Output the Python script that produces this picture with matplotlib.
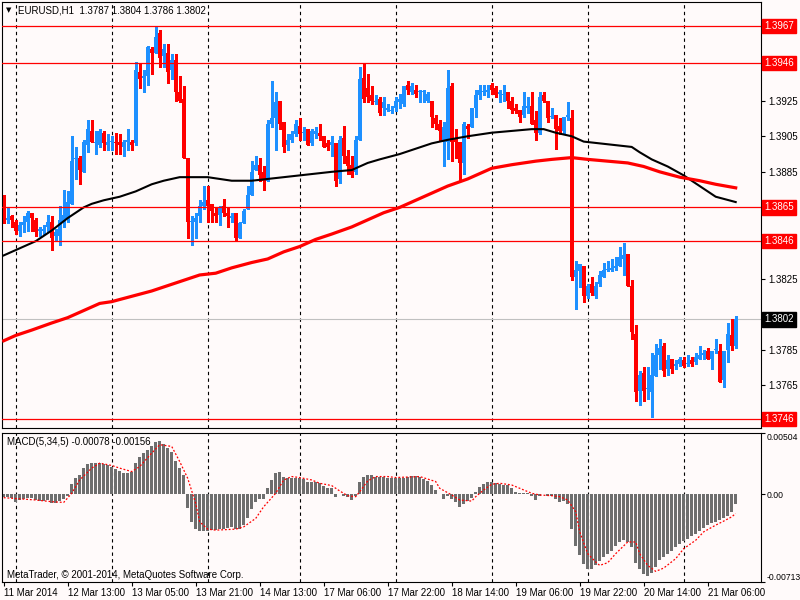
import numpy as np
import matplotlib
matplotlib.use('Agg')
import matplotlib.pyplot as plt
import matplotlib.transforms as mtransforms

plt.rcParams['font.family'] = ['Liberation Sans', 'DejaVu Sans']

# ---- data (EURUSD H1, 184 bars) ----
symbol = 'EURUSD,H1'

opens = [1.3871, 1.3858, 1.3860, 1.3857, 1.3852, 1.3855, 1.3857, 1.3862, 1.3858, 1.3852,
         1.3852, 1.3854, 1.3857, 1.3849, 1.3849, 1.3857, 1.3859, 1.3867, 1.3892, 1.3893,
         1.3885, 1.3900, 1.3908, 1.3901, 1.3900, 1.3907, 1.3900, 1.3902, 1.3902, 1.3902,
         1.3899, 1.3902, 1.3902, 1.3901, 1.3941, 1.3938, 1.3939, 1.3954, 1.3952, 1.3963,
         1.3950, 1.3952, 1.3942, 1.3948, 1.3930, 1.3926, 1.3893, 1.3857, 1.3857, 1.3860,
         1.3866, 1.3869, 1.3867, 1.3862, 1.3861, 1.3866, 1.3862, 1.3859, 1.3862, 1.3848,
         1.3856, 1.3864, 1.3872, 1.3886, 1.3889, 1.3885, 1.3880, 1.3912, 1.3915, 1.3925,
         1.3913, 1.3900, 1.3903, 1.3906, 1.3911, 1.3907, 1.3909, 1.3901, 1.3906, 1.3907,
         1.3905, 1.3901, 1.3900, 1.3901, 1.3881, 1.3904, 1.3894, 1.3889, 1.3885, 1.3903,
         1.3938, 1.3932, 1.3928, 1.3924, 1.3926, 1.3921, 1.3920, 1.3919, 1.3921, 1.3924,
         1.3923, 1.3934, 1.3930, 1.3931, 1.3930, 1.3930, 1.3925, 1.3925, 1.3915, 1.3912,
         1.3902, 1.3902, 1.3933, 1.3904, 1.3902, 1.3890, 1.3911, 1.3910, 1.3921, 1.3928,
         1.3930, 1.3930, 1.3934, 1.3932, 1.3929, 1.3928, 1.3930, 1.3925, 1.3921, 1.3920,
         1.3917, 1.3921, 1.3922, 1.3914, 1.3907, 1.3928, 1.3925, 1.3916, 1.3917, 1.3911,
         1.3908, 1.3916, 1.3915, 1.3826, 1.3829, 1.3832, 1.3815, 1.3822, 1.3815, 1.3822,
         1.3826, 1.3830, 1.3830, 1.3831, 1.3832, 1.3836, 1.3839, 1.3821, 1.3794, 1.3762,
         1.3772, 1.3763, 1.3761, 1.3770, 1.3782, 1.3787, 1.3774, 1.3780, 1.3776, 1.3777,
         1.3779, 1.3777, 1.3779, 1.3778, 1.3780, 1.3782, 1.3784, 1.3780, 1.3785, 1.3784,
         1.3768, 1.3785, 1.3793, 1.3787]
highs = [1.3872, 1.3865, 1.3861, 1.3858, 1.3857, 1.3860, 1.3863, 1.3862, 1.3859, 1.3854,
         1.3855, 1.3861, 1.3860, 1.3853, 1.3866, 1.3875, 1.3874, 1.3905, 1.3899, 1.3894,
         1.3903, 1.3914, 1.3914, 1.3908, 1.3909, 1.3908, 1.3906, 1.3905, 1.3907, 1.3906,
         1.3903, 1.3909, 1.3903, 1.3947, 1.3946, 1.3942, 1.3956, 1.3955, 1.3967, 1.3965,
         1.3957, 1.3957, 1.3951, 1.3951, 1.3939, 1.3933, 1.3893, 1.3860, 1.3862, 1.3869,
         1.3877, 1.3877, 1.3867, 1.3865, 1.3866, 1.3870, 1.3865, 1.3862, 1.3862, 1.3857,
         1.3864, 1.3877, 1.3891, 1.3894, 1.3893, 1.3888, 1.3914, 1.3936, 1.3930, 1.3925,
         1.3913, 1.3906, 1.3908, 1.3914, 1.3915, 1.3910, 1.3909, 1.3909, 1.3910, 1.3912,
         1.3905, 1.3903, 1.3905, 1.3901, 1.3905, 1.3911, 1.3897, 1.3894, 1.3905, 1.3944,
         1.3946, 1.3940, 1.3933, 1.3928, 1.3927, 1.3927, 1.3923, 1.3922, 1.3927, 1.3929,
         1.3933, 1.3936, 1.3935, 1.3934, 1.3931, 1.3931, 1.3930, 1.3925, 1.3917, 1.3914,
         1.3913, 1.3942, 1.3935, 1.3909, 1.3902, 1.3913, 1.3912, 1.3921, 1.3931, 1.3934,
         1.3934, 1.3934, 1.3935, 1.3933, 1.3931, 1.3934, 1.3930, 1.3927, 1.3923, 1.3920,
         1.3930, 1.3927, 1.3930, 1.3919, 1.3930, 1.3930, 1.3925, 1.3921, 1.3917, 1.3915,
         1.3916, 1.3924, 1.3920, 1.3835, 1.3833, 1.3832, 1.3822, 1.3826, 1.3823, 1.3829,
         1.3834, 1.3835, 1.3836, 1.3837, 1.3843, 1.3845, 1.3839, 1.3824, 1.3799, 1.3773,
         1.3775, 1.3775, 1.3783, 1.3788, 1.3791, 1.3789, 1.3782, 1.3780, 1.3779, 1.3781,
         1.3781, 1.3782, 1.3781, 1.3783, 1.3787, 1.3785, 1.3786, 1.3784, 1.3791, 1.3788,
         1.3784, 1.3800, 1.3802, 1.3804]
lows = [1.3856, 1.3856, 1.3854, 1.3850, 1.3849, 1.3851, 1.3852, 1.3852, 1.3849, 1.3849,
        1.3850, 1.3851, 1.3841, 1.3846, 1.3844, 1.3854, 1.3857, 1.3867, 1.3881, 1.3878,
        1.3885, 1.3896, 1.3902, 1.3895, 1.3899, 1.3897, 1.3897, 1.3897, 1.3895, 1.3895,
        1.3894, 1.3897, 1.3897, 1.3900, 1.3932, 1.3930, 1.3934, 1.3940, 1.3952, 1.3944,
        1.3944, 1.3935, 1.3937, 1.3925, 1.3924, 1.3893, 1.3848, 1.3844, 1.3848, 1.3857,
        1.3864, 1.3857, 1.3857, 1.3857, 1.3855, 1.3860, 1.3854, 1.3857, 1.3846, 1.3848,
        1.3856, 1.3864, 1.3872, 1.3886, 1.3880, 1.3875, 1.3880, 1.3910, 1.3897, 1.3909,
        1.3896, 1.3897, 1.3902, 1.3905, 1.3903, 1.3903, 1.3900, 1.3900, 1.3904, 1.3903,
        1.3899, 1.3897, 1.3894, 1.3877, 1.3879, 1.3890, 1.3884, 1.3882, 1.3884, 1.3903,
        1.3924, 1.3924, 1.3923, 1.3923, 1.3917, 1.3917, 1.3919, 1.3918, 1.3919, 1.3921,
        1.3922, 1.3929, 1.3929, 1.3927, 1.3924, 1.3924, 1.3924, 1.3910, 1.3909, 1.3903,
        1.3888, 1.3892, 1.3891, 1.3893, 1.3880, 1.3884, 1.3904, 1.3910, 1.3916, 1.3926,
        1.3928, 1.3927, 1.3929, 1.3927, 1.3924, 1.3925, 1.3921, 1.3918, 1.3918, 1.3913,
        1.3916, 1.3918, 1.3912, 1.3903, 1.3906, 1.3924, 1.3913, 1.3915, 1.3898, 1.3906,
        1.3906, 1.3914, 1.3824, 1.3808, 1.3820, 1.3812, 1.3814, 1.3816, 1.3814, 1.3821,
        1.3826, 1.3829, 1.3829, 1.3830, 1.3832, 1.3827, 1.3821, 1.3791, 1.3756, 1.3754,
        1.3756, 1.3757, 1.3747, 1.3770, 1.3774, 1.3770, 1.3771, 1.3772, 1.3774, 1.3776,
        1.3775, 1.3776, 1.3776, 1.3777, 1.3780, 1.3780, 1.3780, 1.3774, 1.3783, 1.3767,
        1.3764, 1.3778, 1.3785, 1.3786]
closes = [1.3857, 1.3859, 1.3858, 1.3852, 1.3855, 1.3857, 1.3862, 1.3859, 1.3851, 1.3853,
          1.3853, 1.3857, 1.3848, 1.3851, 1.3858, 1.3861, 1.3868, 1.3891, 1.3892, 1.3886,
          1.3902, 1.3909, 1.3902, 1.3902, 1.3908, 1.3901, 1.3902, 1.3902, 1.3901, 1.3900,
          1.3902, 1.3903, 1.3900, 1.3942, 1.3937, 1.3939, 1.3955, 1.3952, 1.3961, 1.3949,
          1.3954, 1.3941, 1.3948, 1.3930, 1.3925, 1.3893, 1.3857, 1.3857, 1.3859, 1.3866,
          1.3868, 1.3866, 1.3863, 1.3860, 1.3865, 1.3862, 1.3860, 1.3860, 1.3848, 1.3856,
          1.3863, 1.3872, 1.3885, 1.3889, 1.3883, 1.3880, 1.3912, 1.3915, 1.3924, 1.3912,
          1.3899, 1.3903, 1.3906, 1.3912, 1.3906, 1.3907, 1.3900, 1.3908, 1.3908, 1.3905,
          1.3899, 1.3899, 1.3902, 1.3880, 1.3903, 1.3894, 1.3888, 1.3883, 1.3903, 1.3937,
          1.3926, 1.3927, 1.3925, 1.3925, 1.3918, 1.3924, 1.3921, 1.3920, 1.3925, 1.3926,
          1.3933, 1.3931, 1.3933, 1.3929, 1.3930, 1.3930, 1.3929, 1.3916, 1.3912, 1.3908,
          1.3910, 1.3932, 1.3902, 1.3902, 1.3890, 1.3912, 1.3909, 1.3921, 1.3928, 1.3931,
          1.3930, 1.3931, 1.3931, 1.3928, 1.3930, 1.3929, 1.3925, 1.3920, 1.3919, 1.3916,
          1.3922, 1.3922, 1.3912, 1.3907, 1.3927, 1.3925, 1.3915, 1.3916, 1.3909, 1.3908,
          1.3916, 1.3917, 1.3826, 1.3830, 1.3833, 1.3815, 1.3821, 1.3817, 1.3821, 1.3827,
          1.3830, 1.3830, 1.3831, 1.3832, 1.3837, 1.3838, 1.3821, 1.3795, 1.3761, 1.3771,
          1.3762, 1.3763, 1.3771, 1.3782, 1.3786, 1.3773, 1.3779, 1.3774, 1.3777, 1.3780,
          1.3776, 1.3777, 1.3777, 1.3781, 1.3782, 1.3783, 1.3780, 1.3784, 1.3785, 1.3767,
          1.3784, 1.3794, 1.3787, 1.3802]

# moving averages, read at sample bars
ma_black_bars = [0, 4, 8, 12, 16, 20, 22, 25, 29, 33, 37, 40, 44, 51, 57, 62, 66, 70, 74,
                 78, 82, 87, 91, 94, 99, 103, 107, 111, 116, 122, 127, 132, 135, 138, 142,
                 145, 149, 153, 157, 159, 162, 166, 170, 174, 178, 183]
ma_black_vals = [1.3838, 1.3842, 1.3846, 1.3852, 1.3859, 1.3865, 1.3867, 1.3869, 1.3871,
                 1.3874, 1.3878, 1.3880, 1.3882, 1.3882, 1.3880, 1.3880, 1.3881, 1.3882,
                 1.3883, 1.3884, 1.3885, 1.3886, 1.3890, 1.3892, 1.3895, 1.3898, 1.3901,
                 1.3903, 1.3905, 1.3907, 1.3908, 1.3909, 1.3909, 1.3907, 1.3905, 1.3902,
                 1.3901, 1.3900, 1.3899, 1.3896, 1.3892, 1.3888, 1.3883, 1.3877, 1.3871,
                 1.3868]
ma_red_bars = [0, 3, 7, 12, 16, 20, 24, 27, 32, 37, 41, 45, 49, 53, 57, 62, 66, 70, 74, 78,
               82, 87, 91, 95, 99, 103, 107, 111, 116, 122, 127, 133, 137, 142, 146, 151,
               156, 160, 164, 169, 174, 178, 183]
ma_red_vals = [1.3790, 1.3793, 1.3796, 1.3800, 1.3803, 1.3807, 1.3811, 1.3812, 1.3815,
               1.3818, 1.3821, 1.3824, 1.3827, 1.3828, 1.3831, 1.3834, 1.3836, 1.3840,
               1.3843, 1.3847, 1.3850, 1.3854, 1.3858, 1.3862, 1.3865, 1.3869, 1.3873,
               1.3877, 1.3881, 1.3887, 1.3889, 1.3891, 1.3892, 1.3893, 1.3892, 1.3891,
               1.3890, 1.3888, 1.3885, 1.3882, 1.3880, 1.3878, 1.3876]

# MACD(5,34,5) histogram, one value per bar
macd_hist = [-0.00023, -0.00023, -0.00029, -0.00059, -0.00048, -0.00037, -0.00032, -0.00032,
             -0.00048, -0.00051, -0.00051, -0.00048, -0.00067, -0.00070, -0.00054, -0.00037,
             -0.00010, 0.00084, 0.00133, 0.00161, 0.00221, 0.00249, 0.00257, 0.00262,
             0.00262, 0.00249, 0.00238, 0.00224, 0.00207, 0.00196, 0.00180, 0.00180,
             0.00188, 0.00262, 0.00306, 0.00336, 0.00367, 0.00397, 0.00430, 0.00441,
             0.00413, 0.00384, 0.00350, 0.00274, 0.00220, 0.00161, -0.00109, -0.00224,
             -0.00279, -0.00301, -0.00301, -0.00301, -0.00292, -0.00292, -0.00284, -0.00279,
             -0.00273, -0.00265, -0.00284, -0.00284, -0.00251, -0.00191, -0.00119, -0.00065,
             -0.00037, -0.00037, 0.00051, 0.00119, 0.00180, 0.00188, 0.00147, 0.00133,
             0.00133, 0.00133, 0.00133, 0.00125, 0.00106, 0.00100, 0.00100, 0.00092,
             0.00073, 0.00056, 0.00051, -0.00018, 0.00001, -0.00012, -0.00018, -0.00045,
             -0.00010, 0.00106, 0.00147, 0.00161, 0.00161, 0.00147, 0.00147, 0.00147,
             0.00139, 0.00133, 0.00133, 0.00133, 0.00139, 0.00144, 0.00155, 0.00150,
             0.00141, 0.00130, 0.00114, 0.00078, 0.00040, 0.00007, -0.00037, -0.00010,
             -0.00037, -0.00059, -0.00103, -0.00076, -0.00054, -0.00026, 0.00023, 0.00065,
             0.00087, 0.00100, 0.00106, 0.00095, 0.00089, 0.00078, 0.00078, 0.00056,
             0.00023, 0.00010, 0.00010, 0.00015, -0.00010, -0.00045, -0.00010, 0.00001,
             -0.00010, -0.00015, -0.00037, -0.00059, -0.00054, -0.00081, -0.00279, -0.00422,
             -0.00498, -0.00567, -0.00608, -0.00608, -0.00575, -0.00548, -0.00515, -0.00490,
             -0.00460, -0.00424, -0.00389, -0.00375, -0.00389, -0.00432, -0.00559, -0.00614,
             -0.00650, -0.00669, -0.00641, -0.00592, -0.00537, -0.00510, -0.00488, -0.00460,
             -0.00432, -0.00405, -0.00383, -0.00361, -0.00339, -0.00320, -0.00301, -0.00273,
             -0.00251, -0.00237, -0.00224, -0.00210, -0.00191, -0.00174, -0.00147, -0.00078]
# signal line, read at sample bars
signal_bars = [0, 8, 12, 15, 17, 19, 22, 24, 27, 29, 32, 34, 37, 39, 42, 44, 46, 48, 49,
               51, 53, 58, 60, 63, 65, 68, 70, 72, 74, 77, 79, 82, 84, 86, 88, 89, 91, 93,
               96, 98, 104, 108, 109, 112, 114, 117, 118, 120, 122, 124, 127, 129, 132, 134,
               137, 139, 141, 143, 144, 146, 148, 149, 151, 153, 156, 158, 159, 161, 163,
               165, 168, 170, 173, 175, 178, 180, 182, 183]
signal_vals = [-0.00026, -0.00045, -0.00059, -0.00065, 0.00010, 0.00119, 0.00216, 0.00257,
               0.00238, 0.00216, 0.00188, 0.00229, 0.00339, 0.00408, 0.00394, 0.00270,
               0.00133, -0.00073, -0.00224, -0.00284, -0.00292, -0.00284, -0.00265, -0.00196,
               -0.00100, 0.00010, 0.00119, 0.00147, 0.00139, 0.00119, 0.00092, 0.00073,
               0.00029, -0.00010, -0.00018, 0.00023, 0.00111, 0.00147, 0.00147, 0.00139,
               0.00147, 0.00106, 0.00051, -0.00004, -0.00045, -0.00054, -0.00018, 0.00037,
               0.00084, 0.00092, 0.00078, 0.00051, 0.00010, -0.00004, -0.00010, -0.00018,
               -0.00045, -0.00141, -0.00306, -0.00485, -0.00553, -0.00581, -0.00559, -0.00485,
               -0.00389, -0.00389, -0.00485, -0.00581, -0.00630, -0.00603, -0.00526, -0.00444,
               -0.00375, -0.00306, -0.00251, -0.00218, -0.00183, -0.00156]

levels = [1.3967, 1.3946, 1.3865, 1.3846, 1.3746]
price_ticks = [1.3745, 1.3765, 1.3785, 1.3805, 1.3825, 1.3845, 1.3865, 1.3885, 1.3905,
               1.3925, 1.3945, 1.3965]
macd_ticks = [-0.00713, 0.0, 0.00504]
macd_tick_labels = ['-0.00713', '0.00', '0.00504']
day_bars = [3, 27, 51, 74, 98, 122, 146, 170]
time_bars = [0, 16, 32, 48, 64, 80, 96, 112, 128, 144, 160, 176]
time_labels = ['11 Mar 2014', '12 Mar 13:00', '13 Mar 05:00', '13 Mar 21:00',
               '14 Mar 13:00', '17 Mar 06:00', '17 Mar 22:00', '18 Mar 14:00',
               '19 Mar 06:00', '19 Mar 22:00', '20 Mar 14:00', '21 Mar 06:00']

bg = '#FFFAFA'
bull = '#1E90FF'
bear = '#FF0000'
fs = 7

o = np.array(opens)
h = np.array(highs)
l = np.array(lows)
c = np.array(closes)
idx = np.arange(len(o))
cols = np.where(c >= o, bull, bear)

fig = plt.figure(figsize=(8, 6), dpi=100, facecolor=bg)
ax = fig.add_axes([2 / 800, 172 / 600, 759 / 800, 426 / 600], facecolor=bg)
ax2 = fig.add_axes([2 / 800, 18.5 / 600, 759 / 800, 148.5 / 600], facecolor=bg)

xmin = -0.425
xmax = xmin + 759 / 4
for a in (ax, ax2):
    a.set_xlim(xmin, xmax)
    for s in a.spines.values():
        s.set_linewidth(0.8)
        s.set_color('black')
    for b in day_bars:
        a.axvline(b, color='black', lw=0.8, ls=(0, (3, 3)), zorder=0.5)

# ---- price panel ----
ax.set_ylim(1.374095, 1.398050)
ax.axhline(closes[-1], color='#C0C0C0', lw=0.8, zorder=1)
ax.vlines(idx, l, h, colors=cols, lw=0.8, zorder=2, antialiased=False)
body = np.maximum(np.abs(c - o), 0.00005)
ax.bar(idx, body, bottom=np.minimum(o, c), width=0.75, color=cols, linewidth=0,
       zorder=2.5, antialiased=False)
ax.plot(ma_black_bars, ma_black_vals, color='black', lw=1.5, zorder=3)
ax.plot(ma_red_bars, ma_red_vals, color='red', lw=2.3, zorder=3)
for lv in levels:
    ax.axhline(lv, color='red', lw=0.9, zorder=3.5)

# tick labels that sit under a price box are left blank
boxed = levels + [closes[-1]]
ax.set_xticks([])
ax.yaxis.tick_right()
ax.set_yticks(price_ticks)
ax.set_yticklabels(['' if min(abs(t - b) for b in boxed) < 0.0004 else f'{t:.4f}'
                    for t in price_ticks])
ax.tick_params(axis='y', direction='out', length=3, width=0.8, pad=2, labelsize=fs,
               colors='black')

blend = mtransforms.blended_transform_factory(ax.transAxes, ax.transData)
for lv in levels:
    ax.text(1.004, lv, f'{lv:.4f}', transform=blend, ha='left', va='center', fontsize=fs,
            color='white', clip_on=False, zorder=10,
            bbox=dict(boxstyle='square,pad=0.22', facecolor='red', edgecolor='red'))
ax.text(1.004, closes[-1], f'{closes[-1]:.4f}', transform=blend, ha='left', va='center',
        fontsize=fs, color='white', clip_on=False, zorder=10,
        bbox=dict(boxstyle='square,pad=0.22', facecolor='black', edgecolor='black'))

header = f'{symbol}  {opens[-1]:.4f} {highs[-1]:.4f} {lows[-1]:.4f} {closes[-1]:.4f}'
fig.text(6 / 800, 1 - 10.5 / 600, '\u25bc', fontsize=5, va='center', ha='left',
         family='DejaVu Sans')
fig.text(18 / 800, 1 - 10.5 / 600, header, fontsize=fs, va='center', ha='left')

# ---- MACD panel ----
ax2.set_ylim(-0.00713, 0.00504)
ax2.bar(idx, macd_hist, width=0.7, color='#6E6E6E', linewidth=0, zorder=2,
        antialiased=False)
ax2.plot(signal_bars, signal_vals, color='red', lw=0.9, ls=(0, (1.5, 1.5)), zorder=3)
ax2.yaxis.tick_right()
ax2.set_yticks(macd_ticks)
ax2.set_yticklabels(macd_tick_labels)
ax2.tick_params(axis='y', direction='out', length=3, width=0.8, pad=1, labelsize=6.2)
ylabs = ax2.get_yticklabels()
ylabs[0].set_va('bottom')
ylabs[2].set_va('top')

ax2.set_xticks(time_bars)
ax2.set_xticklabels(time_labels)
ax2.tick_params(axis='x', direction='out', length=3, width=0.8, pad=2, labelsize=fs)
for t in ax2.get_xticklabels():
    t.set_ha('left')

ax2.text(5 / 759, 1 - 9 / 148.5, f'MACD(5,34,5) {macd_hist[-1]:.5f} {signal_vals[-1]:.5f}',
         transform=ax2.transAxes, fontsize=fs, va='center', ha='left')
ax2.text(5 / 759, 6.5 / 148.5, 'MetaTrader, \u00a9 2001-2014, MetaQuotes Software Corp.',
         transform=ax2.transAxes, fontsize=fs, va='center', ha='left')

fig.savefig('out.png', dpi=100, facecolor=bg)
